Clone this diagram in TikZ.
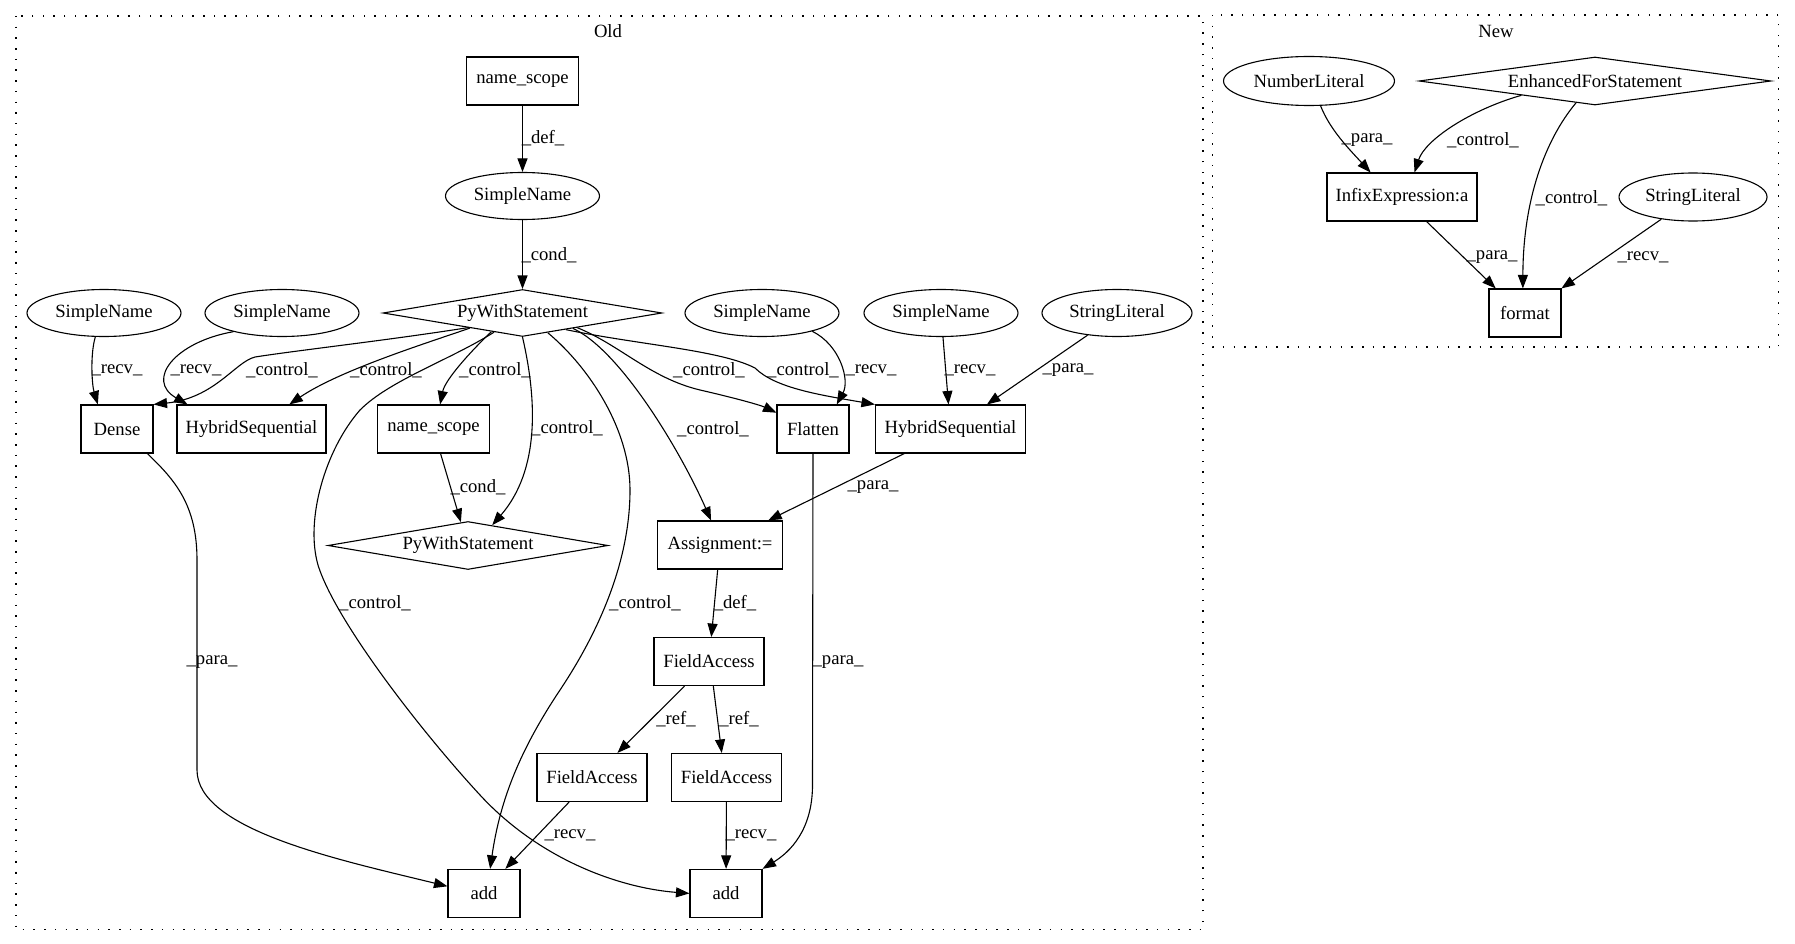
\documentclass[tikz,border=0pt]{standalone}
\usepackage{fontspec}
\setmainfont{Liberation Serif}
\usetikzlibrary{arrows.meta,shapes.geometric}
\begin{document}
\begin{tikzpicture}[x=1pt,y=-1pt,
  every node/.style={font=\fontsize{18.67}{22}\selectfont, inner sep=0pt},
  bx/.style={draw, rectangle, minimum height=48pt, line width=1.1pt},
  el/.style={draw, ellipse, minimum height=47pt, minimum width=154pt, line width=1.1pt},
  dm/.style={draw, diamond, minimum height=47pt, line width=1.1pt},
  conn/.style={line width=1.1pt, -{Triangle[length=13.5pt,width=10pt]}},
  cluster/.style={line width=1.3pt, dash pattern=on 1.5pt off 9.2pt}
]
\useasboundingbox (0,0) rectangle (1795,944);
% clusters
\draw[cluster] (16,16) rectangle (1203,929.5);
\node (oldlbl) at (608,31) {Old};
\draw[cluster] (1212.5,15) rectangle (1778.7,347);
\node (newlbl) at (1496,31) {New};

% Old nodes
\node[bx, minimum width=112pt] (ns1) at (522.5,81) {name\_scope};
\node[el] (sn1) at (522.5,196) {SimpleName};
\node[dm, shape aspect=6, minimum width=279pt] (pw1) at (522.5,313) {PyWithStatement};
\node[el] (sn2) at (104,313) {SimpleName};
\node[el] (sn3) at (282,313) {SimpleName};
\node[el] (sn4) at (762,313) {SimpleName};
\node[el] (sn5) at (941,313) {SimpleName};
\node[el, minimum width=150pt] (sl1) at (1117,313) {StringLiteral};
\node[bx, minimum width=72pt] (dense) at (117,429) {Dense};
\node[bx, minimum width=149pt] (hs1) at (251.5,429) {HybridSequential};
\node[bx, minimum width=112pt] (ns2) at (433.5,429) {name\_scope};
\node[bx, minimum width=72pt] (flatten) at (813,429) {Flatten};
\node[bx, minimum width=150pt] (hs2) at (950.5,429) {HybridSequential};
\node[dm, shape aspect=6, minimum width=280pt, minimum height=48pt] (pw2) at (468,545.5) {PyWithStatement};
\node[bx, minimum width=125pt] (assign) at (720,545) {Assignment:=};
\node[bx, minimum width=110pt] (fa1) at (709,661.6) {FieldAccess};
\node[bx, minimum width=110pt] (fa2) at (592,777.5) {FieldAccess};
\node[bx, minimum width=110pt] (fa3) at (726.5,777.5) {FieldAccess};
\node[bx, minimum width=72pt] (add1) at (484,893.4) {add};
\node[bx, minimum width=72pt] (add2) at (726,893.4) {add};

% New nodes
\node[el, minimum width=171pt, minimum height=49pt] (nl) at (1309,81) {NumberLiteral};
\node[dm, shape aspect=7, minimum width=352pt, minimum height=48pt] (efs) at (1595,81) {EnhancedForStatement};
\node[bx, minimum width=150pt] (ie) at (1402,197) {InfixExpression:a};
\node[el, minimum width=148pt, minimum height=48pt] (sl2) at (1693,197) {StringLiteral};
\node[bx, minimum width=72pt] (fmt) at (1525,313) {format};

% Old edges
\draw[conn] (ns1) -- (sn1);
\node (l1) at (543,138) {\_def\_};
\draw[conn] (sn1) -- (pw1);
\node (l2) at (549,255) {\_cond\_};
\draw[conn] (sn2.250) .. controls (90,355) and (92,385) .. (dense.128);
\node (l3) at (117,370) {\_recv\_};
\draw[conn] (sn3.201) .. controls (175,342) and (145,380) .. (hs1.159);
\node (l4) at (196,370) {\_recv\_};
\draw[conn] (pw1.195) .. controls (390,340) and (300,350) .. (255,357) .. controls (235,362) and (215,398) .. (dense.north east);
\node (l5) at (282,370) {\_control\_};
\draw[conn] (pw1.196) .. controls (430,342) and (340,370) .. (hs1.33);
\node (l6) at (386,370) {\_control\_};
\draw[conn] (pw1.211) .. controls (470,352) and (445,380) .. (ns2.75);
\node (l7) at (495,370) {\_control\_};
\draw[conn] (pw1.214) .. controls (450,360) and (390,380) .. (360,410) .. controls (325,450) and (305,520) .. (318,565) .. controls (335,620) and (420,730) .. (480,795) .. controls (540,860) and (620,888) .. (add2.west);
\node (l8) at (375,603) {\_control\_};
\draw[conn] (pw1.south) .. controls (537,400) and (540,470) .. (pw2.40);
\node (l9) at (567,428.5) {\_control\_};
\draw[conn] (pw1.322) .. controls (590,368) and (630,430) .. (630,490) .. controls (630,560) and (600,630) .. (560,690) .. controls (520,750) and (500,800) .. (add1.76);
\node (l10) at (645,603) {\_control\_};
\draw[conn] (pw1.343) .. controls (620,350) and (680,450) .. (assign.110);
\node (l11) at (713,429) {\_control\_};
\draw[conn] (pw1.345) .. controls (620,345) and (650,378) .. (700,390) .. controls (735,398) and (760,405) .. (flatten.156);
\node (l12) at (709,370) {\_control\_};
\draw[conn] (pw1.339) .. controls (640,345) and (720,350) .. (755,368) .. controls (775,388) and (820,395) .. (hs2.north west);
\node (l13) at (803,370) {\_control\_};
\draw[conn] (sn4.340) .. controls (840,345) and (850,380) .. (flatten.46);
\node (l14) at (871,370) {\_recv\_};
\draw[conn] (sn5) -- (hs2);
\node (l15) at (970,370) {\_recv\_};
\draw[conn] (sl1.217) -- (hs2.34);
\node (l16) at (1068,370) {\_para\_};
\draw[conn] (hs2.208) -- (assign.27);
\node (l17) at (873,487) {\_para\_};
\draw[conn] (ns2.-74) -- (pw2.107);
\node (l18) at (478,487) {\_cond\_};
\draw[conn] (dense.-39) .. controls (175,480) and (197,505) .. (197,560) -- (197,770) .. controls (197,830) and (340,860) .. (add1.169);
\node (l19) at (212,662) {\_para\_};
\draw[conn] (flatten.south) -- (812.5,785) .. controls (812.5,830) and (790,852) .. (add2.north east);
\node (l20) at (838,662) {\_para\_};
\draw[conn] (assign) -- (fa1);
\node (l21) at (735,603) {\_def\_};
\draw[conn] (fa1.225) -- (fa2.44);
\node (l22) at (676,719) {\_ref\_};
\draw[conn] (fa1.280) -- (fa3.101);
\node (l23) at (739,719) {\_ref\_};
\draw[conn] (fa2.227) -- (add1.49);
\node (l24) at (570,835) {\_recv\_};
\draw[conn] (fa3) -- (add2);
\node (l25) at (751,835) {\_recv\_};

% New edges
\draw[conn] (nl.295) .. controls (1330,130) and (1350,150) .. (ie.142);
\node (l26) at (1367,140) {\_para\_};
\draw[conn] (efs.191) .. controls (1470,110) and (1425,140) .. (ie.63);
\node (l27) at (1483,140) {\_control\_};
\draw[conn] (efs.229) .. controls (1545,140) and (1523,200) .. (fmt.95);
\node (l28) at (1571.5,198) {\_control\_};
\draw[conn] (ie.-45) -- (fmt.140);
\node (l29) at (1492,257) {\_para\_};
\draw[conn] (sl2.215) -- (fmt.34);
\node (l30) at (1643,257) {\_recv\_};
\end{tikzpicture}
\end{document}
